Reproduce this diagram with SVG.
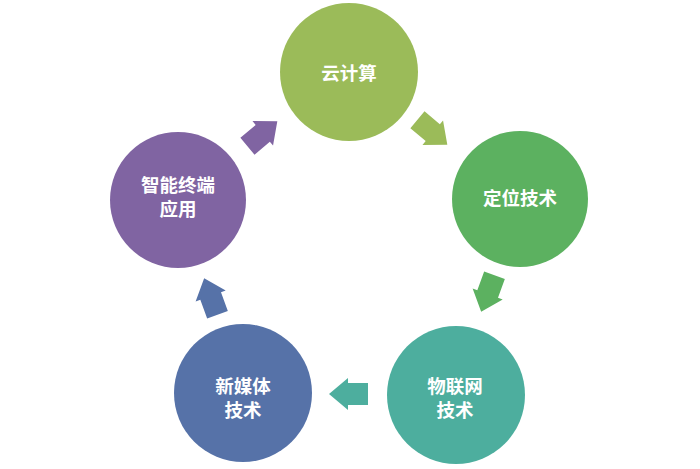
<svg xmlns="http://www.w3.org/2000/svg" width="700" height="469" viewBox="0 0 700 469">
  <defs>
    <style>
      .lbl { font-family: "Noto Sans CJK SC", "Noto Sans", sans-serif; font-size: 18.5px; font-weight: bold; fill: #ffffff; text-anchor: middle; dominant-baseline: central; }
    </style>
    <polygon id="arr" points="-19,-11 1,-11 1,-16 20,0 1,16 1,11 -19,11"/>
  </defs>
  <rect width="700" height="469" fill="#ffffff"/>
  <g id="connectors">
    <use href="#arr" fill="#9BBB59" transform="translate(432,132) rotate(40)"/>
    <use href="#arr" fill="#5CB160" transform="translate(488,293) rotate(110)"/>
    <use href="#arr" fill="#4DAE9E" transform="translate(349,394) rotate(180)"/>
    <use href="#arr" fill="#5672A8" transform="translate(211,297) rotate(-110)"/>
    <use href="#arr" fill="#8064A2" transform="translate(262,134) rotate(-40)"/>
  </g>
  <g id="cloud">
    <circle cx="349" cy="72" r="69" fill="#9BBB59"/>
    <text class="lbl" x="349" y="72">云计算</text>
  </g>
  <g id="positioning">
    <circle cx="520" cy="199" r="68" fill="#5CB160"/>
    <text class="lbl" x="520" y="197">定位技术</text>
  </g>
  <g id="iot">
    <circle cx="456" cy="395" r="69" fill="#4DAE9E"/>
    <text class="lbl" x="455" y="385">物联网</text>
    <text class="lbl" x="455" y="409">技术</text>
  </g>
  <g id="newmedia">
    <circle cx="243" cy="393" r="69" fill="#5672A8"/>
    <text class="lbl" x="243" y="385">新媒体</text>
    <text class="lbl" x="243" y="409">技术</text>
  </g>
  <g id="terminal">
    <circle cx="178" cy="200" r="68" fill="#8064A2"/>
    <text class="lbl" x="178" y="184">智能终端</text>
    <text class="lbl" x="178" y="208">应用</text>
  </g>
</svg>
